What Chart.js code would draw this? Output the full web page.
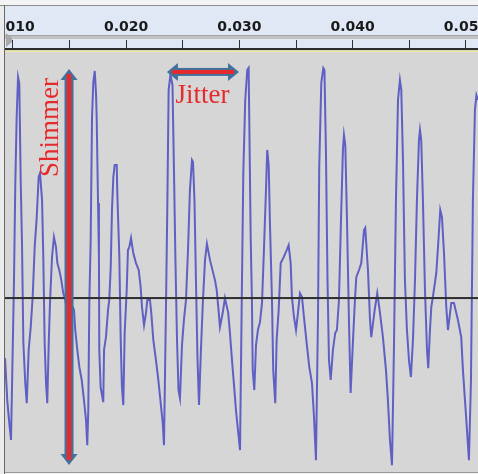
<!DOCTYPE html>
<html><head><meta charset="utf-8">
<script src="https://cdn.jsdelivr.net/npm/chart.js@4/dist/chart.umd.min.js"></script>
<style>html,body{margin:0;padding:0;background:#fff;}canvas{display:block;}</style>
</head><body>
<canvas id="c" width="478" height="474"></canvas>
<script>
// time in milliseconds (axis shows seconds)
const timeMs = [
9.32,9.52,9.70,9.85,10.00,10.11,10.23,10.35,10.47,10.58,
10.71,10.82,10.94,11.11,11.24,11.41,11.59,11.76,11.94,12.12,
12.29,12.41,12.59,12.70,12.82,12.94,13.05,13.18,13.29,13.47,
13.64,13.82,13.94,14.11,14.29,14.46,14.64,14.88,15.14,15.41,
15.52,15.70,15.88,16.09,16.29,16.47,16.58,16.67,16.76,16.88,
17.00,17.11,17.24,17.35,17.41,17.53,17.61,17.64,17.76,17.99,
18.06,18.23,18.41,18.52,18.65,18.76,18.88,19.00,19.18,19.23,
19.41,19.53,19.64,19.76,19.88,20.06,20.17,20.29,20.44,20.64,
20.88,21.12,21.29,21.41,21.59,21.76,21.88,22.11,22.23,22.41,
22.64,22.85,23.06,23.24,23.35,23.53,23.64,23.76,23.92,24.10,
24.23,24.36,24.50,24.63,24.76,24.94,25.11,25.29,25.47,25.64,
25.82,25.91,26.04,26.17,26.31,26.44,26.61,26.79,26.97,27.14,
27.41,27.85,28.00,28.14,28.29,28.53,28.73,29.02,29.17,29.35,
29.53,29.70,29.88,30.06,30.23,30.35,30.52,30.70,30.82,30.88,
31.00,31.11,31.18,31.32,31.47,31.64,31.82,32.00,32.17,32.35,
32.46,32.59,32.70,32.88,32.99,33.17,33.29,33.47,33.65,33.88,
34.18,34.35,34.53,34.64,34.82,35.00,35.17,35.35,35.53,35.70,
35.94,36.17,36.41,36.59,36.76,36.94,37.05,37.23,37.41,37.51,
37.64,37.78,37.91,38.06,38.26,38.46,38.61,38.79,38.97,39.14,
39.23,39.35,39.50,39.67,39.82,40.03,40.20,40.32,40.56,40.76,
41.00,41.11,41.35,41.53,41.64,41.94,42.17,42.38,42.67,42.94,
43.11,43.29,43.47,43.64,43.82,44.00,44.17,44.29,44.44,44.61,
44.79,44.97,45.14,45.32,45.50,45.67,45.85,45.94,46.05,46.20,
46.38,46.56,46.67,46.82,46.94,47.17,47.38,47.53,47.73,47.88,
48.06,48.26,48.41,48.70,48.94,49.29,49.58,49.73,49.91,50.09,
50.26,50.44,50.61,50.79,50.92,51.06
];
const amplitude = [
-0.244,-0.415,-0.508,-0.577,-0.211,0.061,0.467,0.736,0.898,0.874,
0.467,0.224,-0.183,-0.346,-0.427,-0.211,-0.118,0.004,0.207,0.329,
0.492,0.508,0.398,0.167,-0.183,-0.346,-0.427,-0.183,-0.020,0.167,
0.248,0.207,0.142,0.114,0.073,0.020,-0.008,-0.081,-0.020,-0.049,
-0.130,-0.211,-0.280,-0.333,-0.415,-0.496,-0.598,-0.455,-0.020,0.236,
0.736,0.874,0.923,0.833,0.736,0.386,0.167,-0.211,-0.362,-0.423,
-0.211,-0.159,-0.049,-0.008,0.126,0.358,0.492,0.541,0.541,0.427,
0.167,-0.171,-0.362,-0.435,-0.142,0.033,0.195,0.207,0.244,0.183,
0.142,0.114,0.045,-0.037,-0.110,-0.061,-0.008,-0.008,-0.061,-0.171,
-0.252,-0.333,-0.427,-0.508,-0.598,-0.020,0.358,0.846,0.907,0.866,
0.520,0.154,-0.171,-0.374,-0.407,-0.191,-0.089,-0.008,0.195,0.439,
0.561,0.553,0.398,0.073,-0.252,-0.435,-0.211,-0.008,0.154,0.220,
0.154,0.073,0.033,-0.037,-0.118,-0.061,0.000,-0.061,-0.142,-0.252,
-0.354,-0.455,-0.537,-0.618,0.061,0.508,0.805,0.927,0.935,0.711,
0.248,-0.008,-0.293,-0.374,-0.191,-0.130,-0.098,-0.020,0.195,0.439,
0.602,0.541,0.305,-0.008,-0.293,-0.427,-0.171,-0.049,0.142,0.163,
0.195,0.215,0.142,0.004,-0.077,-0.130,-0.061,0.020,0.004,-0.077,
-0.183,-0.280,-0.346,-0.484,-0.659,-0.077,0.533,0.874,0.935,0.927,
0.602,0.073,-0.252,-0.333,-0.211,-0.142,-0.130,-0.008,0.317,0.602,
0.663,0.622,0.317,-0.089,-0.386,-0.171,-0.008,0.085,0.114,0.142,
0.276,0.285,0.114,-0.089,-0.159,-0.049,0.020,-0.049,-0.159,-0.293,
-0.415,-0.577,-0.679,-0.211,0.398,0.805,0.886,0.846,0.561,0.073,
-0.130,-0.252,-0.321,-0.171,0.073,0.398,0.642,0.683,0.642,0.398,
0.033,-0.211,-0.285,-0.130,-0.037,0.033,0.102,0.207,0.358,0.329,
0.183,-0.037,-0.130,-0.020,-0.020,-0.089,-0.159,-0.293,-0.415,-0.537,
-0.659,-0.333,0.398,0.764,0.825,0.805
];
const xRangeMs = [9.32, 51.06];
const yRange = [-0.707, 1.0];
const tickStepMs = 5;
const labelStepMs = 10;
const shimmerLabel = 'Shimmer';
const jitterLabel = 'Jitter';

// annotation anchors in data units
const notes = {
  shimmerArrow: {t: 14.97, a1: 0.931, a2: -0.679},
  jitterArrow: {a: 0.919, t1: 23.61, t2: 29.97},
  shimmerText: {t: 14.00, a: 0.693},
  jitterText: {t: 26.75, a: 0.793}
};

const points = timeMs.map((t, i) => ({x: t, y: amplitude[i]}));

const BLUE = '#41719c', RED = '#e62a2c';

function vArrow(ctx, x, y1, y2) {
  ctx.fillStyle = BLUE;
  ctx.fillRect(x - 4.5, y1 + 9, 9, y2 - y1 - 18);
  ctx.beginPath(); ctx.moveTo(x, y1); ctx.lineTo(x - 8.5, y1 + 11); ctx.lineTo(x + 8.5, y1 + 11); ctx.closePath(); ctx.fill();
  ctx.beginPath(); ctx.moveTo(x, y2); ctx.lineTo(x - 8.5, y2 - 11); ctx.lineTo(x + 8.5, y2 - 11); ctx.closePath(); ctx.fill();
  ctx.fillStyle = RED;
  ctx.fillRect(x - 2.3, y1 + 5, 4.6, y2 - y1 - 10);
}
function hArrow(ctx, y, x1, x2) {
  ctx.fillStyle = BLUE;
  ctx.fillRect(x1 + 9, y - 4, x2 - x1 - 18, 8);
  ctx.beginPath(); ctx.moveTo(x1, y); ctx.lineTo(x1 + 11, y - 9); ctx.lineTo(x1 + 11, y + 9); ctx.closePath(); ctx.fill();
  ctx.beginPath(); ctx.moveTo(x2, y); ctx.lineTo(x2 - 11, y - 9); ctx.lineTo(x2 - 11, y + 9); ctx.closePath(); ctx.fill();
  ctx.fillStyle = RED;
  ctx.fillRect(x1 + 5, y - 2, x2 - x1 - 10, 4);
}

const decor = {
  id: 'decor',
  beforeDraw(chart) {
    const ctx = chart.ctx, ca = chart.chartArea, W = chart.width, H = chart.height;
    ctx.save();
    ctx.fillStyle = '#ececec'; ctx.fillRect(0, 0, W, H);
    ctx.fillStyle = '#dfe8f4'; ctx.fillRect(0, 6, W, ca.top - 6);
    ctx.fillStyle = '#f4f4f4'; ctx.fillRect(0, 0, W, 5);
    ctx.fillStyle = '#8c8c8c'; ctx.fillRect(0, 5, W, 1);
    // ruler bar
    ctx.fillStyle = '#c2c2c2'; ctx.fillRect(ca.left, 35, W - ca.left, 4);
    ctx.fillStyle = '#a2a2a2'; ctx.fillRect(ca.left, 35, W - ca.left, 1);
    // plot area
    ctx.fillStyle = '#d6d6d6'; ctx.fillRect(ca.left, ca.top, ca.right - ca.left, ca.bottom - ca.top);
    ctx.restore();
  },
  afterDatasetsDraw(chart) {
    const ctx = chart.ctx, ca = chart.chartArea, ys = chart.scales.y;
    const y0 = ys.getPixelForValue(0);
    ctx.save();
    ctx.fillStyle = '#2e2e2e';
    ctx.fillRect(ca.left, y0 - 1, ca.right - ca.left, 2);
    ctx.restore();
  },
  afterDraw(chart) {
    const ctx = chart.ctx, ca = chart.chartArea, W = chart.width, H = chart.height;
    const xs = chart.scales.x, ys = chart.scales.y;
    ctx.save();
    // ruler bottom edge
    ctx.fillStyle = '#2c2c2c'; ctx.fillRect(0, ca.top - 4, W, 2);
    ctx.fillStyle = '#d8d6b8'; ctx.fillRect(0, ca.top - 2, W, 1);
    ctx.fillStyle = '#f0eb9c'; ctx.fillRect(0, ca.top - 1, W, 1);
    // left border
    ctx.fillStyle = '#ececec'; ctx.fillRect(0, 6, ca.left - 1, H - 6);
    ctx.fillStyle = '#6a6a6a'; ctx.fillRect(ca.left - 1, 5, 1, H - 5);
    // bottom edge
    ctx.fillStyle = '#9a9a9a'; ctx.fillRect(ca.left, ca.bottom, W - ca.left, 1);
    // ruler marker
    ctx.fillStyle = '#a9a9a9';
    ctx.beginPath(); ctx.moveTo(ca.left + 1, 33); ctx.lineTo(ca.left + 7, 38); ctx.lineTo(ca.left + 7, 42); ctx.lineTo(ca.left + 1, 47); ctx.closePath(); ctx.fill();

    // annotations
    const sa = notes.shimmerArrow;
    vArrow(ctx, xs.getPixelForValue(sa.t), ys.getPixelForValue(sa.a1), ys.getPixelForValue(sa.a2));
    const ja = notes.jitterArrow;
    hArrow(ctx, ys.getPixelForValue(ja.a), xs.getPixelForValue(ja.t1), xs.getPixelForValue(ja.t2));

    ctx.fillStyle = RED;
    ctx.font = '27px "Liberation Serif", "Times New Roman", serif';
    ctx.textAlign = 'center'; ctx.textBaseline = 'alphabetic';
    ctx.save();
    ctx.translate(xs.getPixelForValue(notes.shimmerText.t), ys.getPixelForValue(notes.shimmerText.a));
    ctx.rotate(-Math.PI / 2);
    ctx.fillText(shimmerLabel, 0, 0);
    ctx.restore();
    ctx.fillText(jitterLabel, xs.getPixelForValue(notes.jitterText.t), ys.getPixelForValue(notes.jitterText.a));
    ctx.restore();
  }
};

new Chart(document.getElementById('c'), {
  type: 'line',
  data: { datasets: [{
    data: points,
    borderColor: 'rgba(70,70,192,0.82)',
    borderWidth: 2,
    pointRadius: 0,
    tension: 0,
    fill: false
  }]},
  options: {
    responsive: false,
    animation: false,
    events: [],
    layout: { padding: { left: 5, right: 0, top: 0, bottom: 2 } },
    plugins: { legend: { display: false }, tooltip: { enabled: false } },
    scales: {
      x: {
        type: 'linear', position: 'top',
        min: xRangeMs[0], max: xRangeMs[1],
        border: { display: false },
        grid: { display: true, drawOnChartArea: false, drawTicks: true, tickLength: 12, tickColor: '#303030', tickWidth: 1 },
        ticks: {
          stepSize: tickStepMs, includeBounds: false, autoSkip: false, maxRotation: 0, padding: 4,
          color: '#1a1a1a',
          font: { family: '"DejaVu Sans", sans-serif', size: 14, weight: 'bold' },
          callback: (v) => (Math.abs(v / labelStepMs - Math.round(v / labelStepMs)) < 1e-6) ? (v / 1000).toFixed(3) : ''
        },
        afterFit: (s) => { s.height = 52; s.paddingLeft = 0; s.paddingRight = 0; }
      },
      y: {
        type: 'linear', display: false,
        min: yRange[0], max: yRange[1]
      }
    }
  },
  plugins: [decor]
});
</script>
</body></html>
